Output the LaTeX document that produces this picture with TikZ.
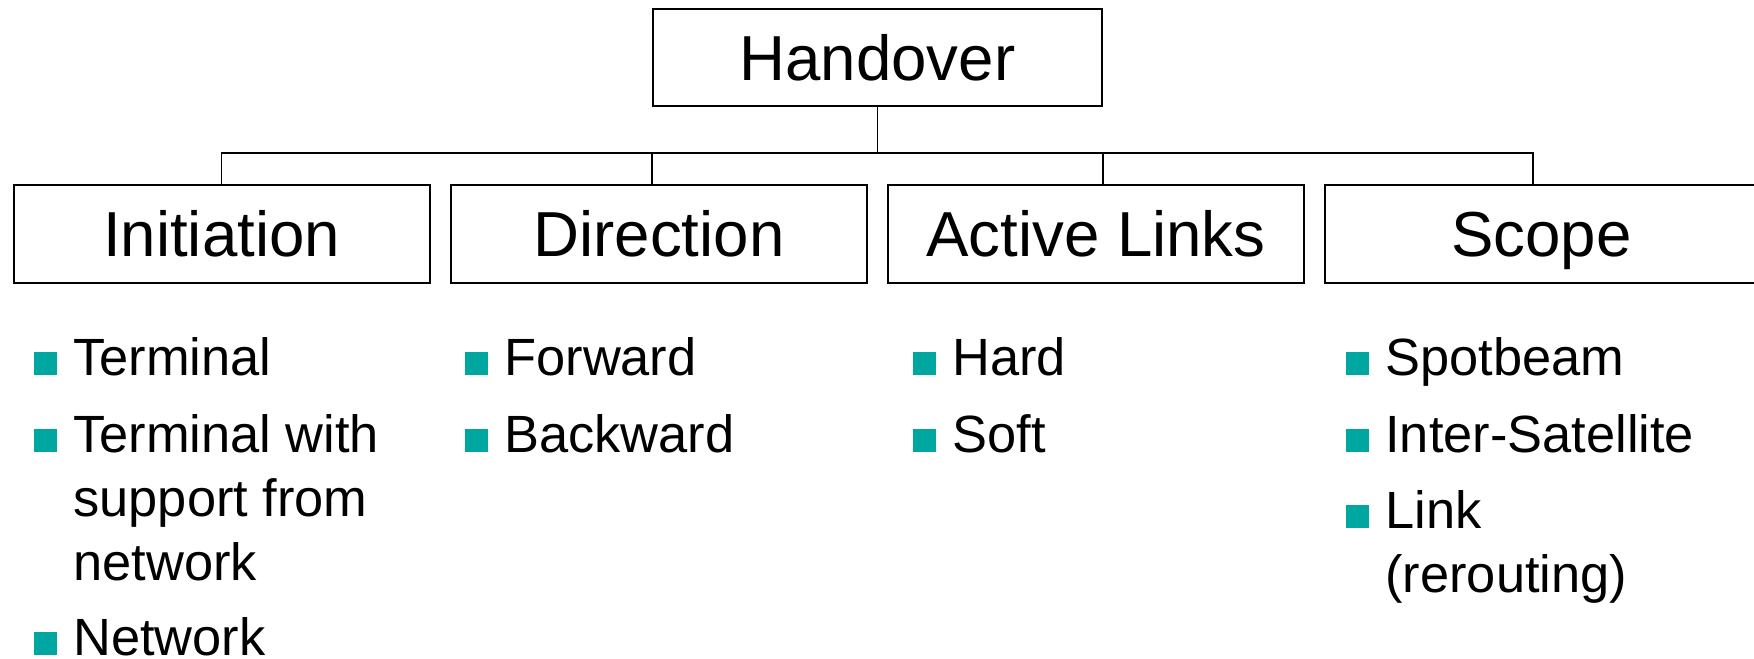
\documentclass[tikz,border=0pt]{standalone}
\usepackage{fontspec}
\setmainfont{Liberation Sans}
\usetikzlibrary{positioning}
\definecolor{mteal}{HTML}{00A6A0}
\tikzset{
  topbox/.style={draw,line width=1pt,minimum width=224.5pt,minimum height=48.5pt,
    inner sep=0pt,text height=22.8pt,text depth=0pt,font=\fontsize{31.8}{38}\selectfont},
  catbox/.style={draw,line width=1pt,minimum width=208pt,minimum height=49pt,
    inner sep=0pt,text height=22.8pt,text depth=0pt,font=\fontsize{31.8}{38}\selectfont},
  bullet/.style={fill=mteal,minimum size=11.5pt,inner sep=0pt,anchor=south west},
  item/.style={anchor=base west,inner sep=0pt,
    font=\fontsize{26.2}{32}\selectfont},
  link/.style={line width=0.8pt},
}
% lines of one list entry, baseline at the first line
\newcommand{\entry}[1]{\begin{tabular}[t]{@{}l@{}}#1\end{tabular}}

\begin{document}
\begin{tikzpicture}[x=0.5pt,y=-0.5pt]
    \useasboundingbox (0,0) rectangle (1754,658);
    % root and categories
    \node[topbox] (top) at (877.5,58) {Handover};
    \node[catbox] (ini) at (221.5,234) {Initiation};
    \node[catbox] (dir) at (659,234) {Direction};
    \node[catbox] (act) at (1096,234) {Active Links};
    \node[catbox,minimum width=216.5pt] (scp) at (1541.5,234) {Scope};
    % tree lines
    \coordinate (bus) at (877.5,153);
    \draw[link] (top.south) -- (bus);
    \draw[link] (ini.north) |- (bus) -| ([xshift=-4.25pt]scp.north);
    \draw[link] (top.south west |- bus) -- (top.south west |- dir.north);
    \draw[link] (top.south east |- bus) -- (top.south east |- act.north);
    % bullet lists
    \foreach \n/\bx/\y/\txt in {
        ini1/34/375/Terminal,
        ini2/34/452/{Terminal with\\support from\\network},
        ini3/34/655/Network,
        dir1/465/375/Forward,
        dir2/465/452/Backward,
        act1/913/375/Hard,
        act2/913/452/Soft,
        scp1/1346/375/Spotbeam,
        scp2/1346/452/Inter-Satellite,
        scp3/1346/528/{Link\\(rerouting)}}
    {
      \node[bullet] (\n-b) at (\bx,\y) {};
      \node[item] (\n) at (\bx+39,\y) {\entry{\txt}};
    }
\end{tikzpicture}
\end{document}
